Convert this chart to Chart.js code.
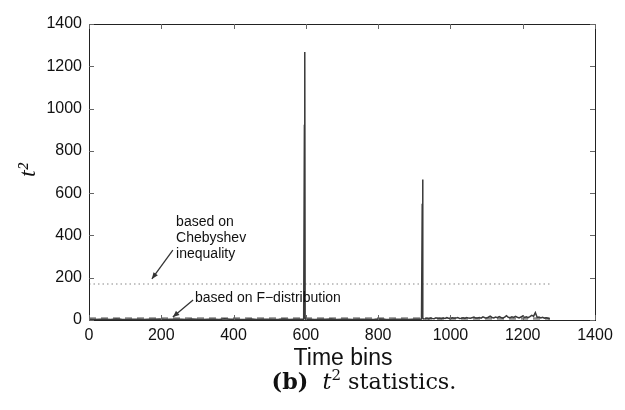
<!DOCTYPE html>
<html>
<head>
<meta charset="utf-8">
<script src="https://cdn.jsdelivr.net/npm/chart.js@4.4.1/dist/chart.umd.min.js"></script>
<style>
html,body{margin:0;padding:0;background:#fff;}
#wrap{width:625px;height:410px;position:relative;}
</style>
</head>
<body>
<div id="wrap"><canvas id="c" width="625" height="410"></canvas></div>
<script>
// ---- data ----
const bins = [
  0,15,30,45,60,75,90,105,120,135,
  150,165,180,195,210,225,240,255,270,285,
  300,315,330,345,360,375,390,405,420,435,
  450,465,480,495,510,525,540,555,570,585,
  594,596,597,598,600,
  610,625,640,655,670,685,700,715,730,745,
  760,775,790,805,820,835,850,865,880,895,
  910,
  920,922,923,924,926,
  930,935,940,945,950,955,960,965,970,975,
  980,985,990,995,1000,1005,1010,1015,1020,1025,
  1030,1035,1040,1045,1050,1055,1060,1065,1070,1075,
  1080,1085,1090,1095,1100,1105,1110,1115,1120,1125,
  1130,1135,1140,1145,1150,1155,1160,1165,1170,1175,
  1180,1185,1190,1195,1200,1205,1210,1215,1220,1225,
  1230,1235,1240,1245,1250,1255,1260,1265,1270,1275
];
const t2Values = [
  3,2,4,3,2,5,3,2,4,3,
  2,4,3,5,2,3,4,3,2,5,
  3,2,4,3,2,6,3,4,2,3,
  5,2,3,4,2,3,5,2,3,4,
  3,920,1268,8,3,
  3,2,4,3,5,2,3,4,2,3,
  4,2,3,5,3,2,4,3,2,4,
  3,
  4,550,665,10,5,
  6,8,5,9,7,6,10,7,8,6,
  9,7,11,8,6,10,8,9,12,7,
  8,10,7,12,9,8,11,14,9,10,
  12,9,15,11,10,13,18,12,10,14,
  11,16,12,9,14,20,13,11,15,12,
  17,13,10,14,19,12,15,11,16,22,
  18,35,12,14,10,13,9,11,8,4
];
const thresholdRange = [0, 1275];
const chebyshevLimit = 170;
const fDistLimit = 7;
const xTicks = [0,200,400,600,800,1000,1200,1400];
const yTicks = [0,200,400,600,800,1000,1200,1400];
const xTitle = "Time bins";
const yTitle = "t\u00B2";
const chebText = ["based on", "Chebyshev", "inequality"];
const chebTextAt = [241, 463, 76];      // x, first-line y, line step (data units)
const chebArrow = [232, 331, 174, 194]; // tail x,y -> head x,y
const fText = "based on F\u2212distribution";
const fTextAt = [293, 104];
const fArrow = [288, 95, 232, 14];

const series = bins.map((b,i)=>({x:b,y:t2Values[i]}));
const chebLine = thresholdRange.map(x=>({x:x,y:chebyshevLimit}));
const fLine = thresholdRange.map(x=>({x:x,y:fDistLimit}));

const SANS = "'Liberation Sans', Arial, Helvetica, sans-serif";
const SERIF = "'Liberation Serif', 'Times New Roman', serif";
const CAPSERIF = "'DejaVu Serif', 'Liberation Serif', serif";

function arrow(ctx, x1, y1, x2, y2){
  ctx.beginPath(); ctx.moveTo(x1,y1); ctx.lineTo(x2,y2); ctx.stroke();
  const a = Math.atan2(y2-y1, x2-x1), L = 7, w = 0.4;
  ctx.beginPath();
  ctx.moveTo(x2,y2);
  ctx.lineTo(x2 - L*Math.cos(a-w), y2 - L*Math.sin(a-w));
  ctx.lineTo(x2 - L*Math.cos(a+w), y2 - L*Math.sin(a+w));
  ctx.closePath(); ctx.fill();
}

const decor = {
  id:'decor',
  afterDraw(chart){
    const ctx = chart.ctx, ca = chart.chartArea;
    const xs = chart.scales.x, ys = chart.scales.y;
    ctx.save();
    // frame
    ctx.strokeStyle = '#222'; ctx.lineWidth = 1;
    ctx.strokeRect(Math.round(ca.left)+0.5, Math.round(ca.top)+0.5,
                   Math.round(ca.right-ca.left), Math.round(ca.bottom-ca.top));
    // inward ticks
    ctx.strokeStyle = '#666'; ctx.lineWidth = 1;
    ctx.beginPath();
    yTicks.forEach(v=>{
      const y = Math.round(ys.getPixelForValue(v))+0.5;
      ctx.moveTo(ca.left, y); ctx.lineTo(ca.left+5, y);
      ctx.moveTo(ca.right, y); ctx.lineTo(ca.right-5, y);
    });
    xTicks.forEach(v=>{
      const x = Math.round(xs.getPixelForValue(v))+0.5;
      ctx.moveTo(x, ca.bottom); ctx.lineTo(x, ca.bottom-5);
      ctx.moveTo(x, ca.top); ctx.lineTo(x, ca.top+5);
    });
    ctx.stroke();
    // annotations
    ctx.fillStyle = '#111'; ctx.strokeStyle = '#333'; ctx.lineWidth = 1.3;
    ctx.font = '14px ' + SANS;
    ctx.textAlign = 'left'; ctx.textBaseline = 'middle';
    chebText.forEach((t,i)=>{
      ctx.fillText(t, xs.getPixelForValue(chebTextAt[0]),
                   ys.getPixelForValue(chebTextAt[1] - i*chebTextAt[2]));
    });
    ctx.fillText(fText, xs.getPixelForValue(fTextAt[0]), ys.getPixelForValue(fTextAt[1]));
    ctx.fillStyle = '#333';
    arrow(ctx, xs.getPixelForValue(chebArrow[0]), ys.getPixelForValue(chebArrow[1]),
               xs.getPixelForValue(chebArrow[2]), ys.getPixelForValue(chebArrow[3]));
    arrow(ctx, xs.getPixelForValue(fArrow[0]), ys.getPixelForValue(fArrow[1]),
               xs.getPixelForValue(fArrow[2]), ys.getPixelForValue(fArrow[3]));
    // x title
    ctx.fillStyle = '#111';
    ctx.textAlign = 'center'; ctx.textBaseline = 'alphabetic';
    ctx.font = '23px ' + SANS;
    ctx.fillText(xTitle, 343, 365);
    // y title (rotated)
    ctx.save();
    ctx.translate(29, 170);
    ctx.rotate(-Math.PI/2);
    ctx.font = 'italic 24px ' + SERIF;
    ctx.textAlign = 'center'; ctx.textBaseline = 'middle';
    ctx.fillText(yTitle, 0, 0);
    ctx.restore();
    // caption (sized to the reference width)
    ctx.textAlign = 'left'; ctx.textBaseline = 'alphabetic';
    const mk = (s)=>[
      ['bold ' + s + 'px ' + CAPSERIF, '(b)', 0],
      [s + 'px ' + CAPSERIF, '  ', 0],
      ['italic ' + s + 'px ' + CAPSERIF, 't', 0],
      [Math.round(s*0.68) + 'px ' + CAPSERIF, '2', -Math.round(s*0.4)],
      [s + 'px ' + CAPSERIF, ' statistics.', 0]
    ];
    const widthOf = (parts)=>{let t=0; parts.forEach(p=>{ctx.font=p[0]; t+=ctx.measureText(p[1]).width;}); return t;};
    let size = 19;
    const w0 = widthOf(mk(size));
    size = Math.max(14, Math.min(24, size * 185 / w0));
    const parts = mk(size);
    const total = widthOf(parts);
    let x = 364 - total/2;
    parts.forEach(p=>{ctx.font=p[0]; ctx.fillText(p[1], x, 389 + p[2]); x += ctx.measureText(p[1]).width;});
    ctx.restore();
  }
};

new Chart(document.getElementById('c'), {
  type:'line',
  data:{
    datasets:[
      {data:series, borderColor:'#3a3a3a', borderWidth:1.5, pointRadius:0, tension:0, order:1},
      {data:chebLine, borderColor:'#b0b0b0', borderWidth:1.5, borderDash:[1.5,3], pointRadius:0, order:2},
      {data:fLine, borderColor:'#8a8a8a', borderWidth:2.5, borderDash:[7,5], pointRadius:0, order:3}
    ]
  },
  options:{
    responsive:false, animation:false,
    layout:{padding:{left:0, right:30, top:24, bottom:0}},
    plugins:{legend:{display:false}, tooltip:{enabled:false}, title:{display:false}},
    scales:{
      x:{
        type:'linear', min:0, max:1400,
        afterBuildTicks(s){ s.ticks = xTicks.map(v=>({value:v})); },
        afterFit(s){ s.height = 90; },
        grid:{display:false, drawTicks:false}, border:{display:false},
        ticks:{color:'#111', font:{family:SANS, size:16}, padding:6, maxRotation:0,
               callback:(v)=>String(v)}
      },
      y:{
        type:'linear', min:0, max:1400,
        afterBuildTicks(s){ s.ticks = yTicks.map(v=>({value:v})); },
        afterFit(s){ s.width = 89; },
        grid:{display:false, drawTicks:false}, border:{display:false},
        ticks:{color:'#111', font:{family:SANS, size:16}, padding:7,
               callback:(v)=>String(v)}
      }
    }
  },
  plugins:[decor]
});
</script>
</body>
</html>
